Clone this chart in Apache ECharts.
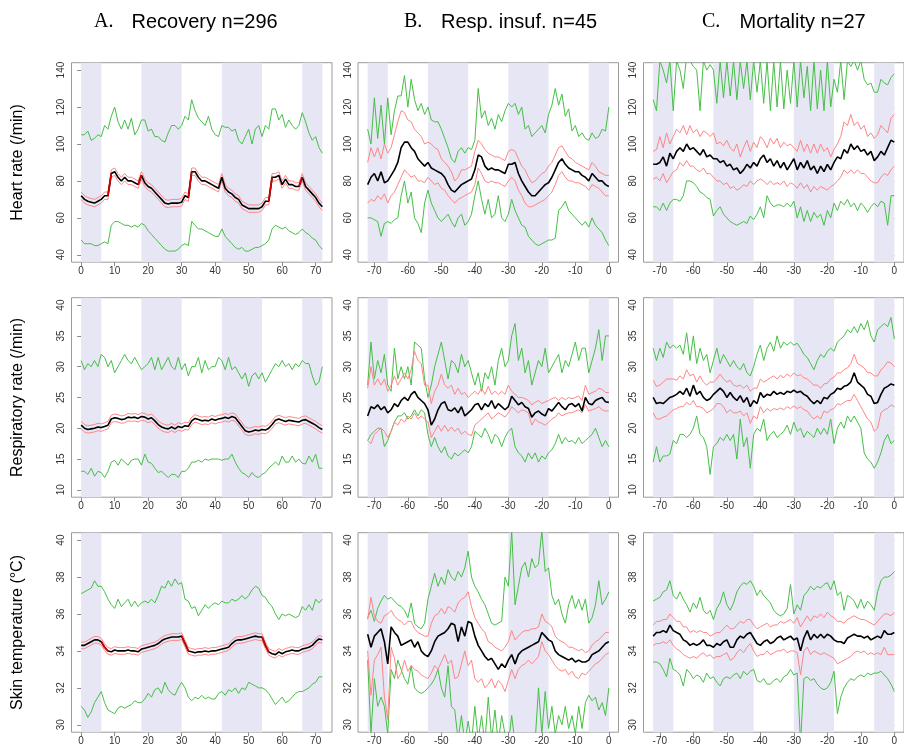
<!DOCTYPE html>
<html>
<head>
<meta charset="utf-8">
<script src="https://cdn.jsdelivr.net/npm/echarts@6/dist/echarts.min.js"></script>
<style>html,body{margin:0;padding:0;background:#fff}#c{width:904px;height:747px}</style>
</head>
<body>
<div id="c"></div>
<script>
// ---------- axes / layout data ----------
const HOURS_A = []; for (let h = 0; h <= 72; h++) HOURS_A.push(h);
const HOURS_BC = HOURS_A.map(h => h - 72);
const NIGHT_A = [[0,6],[18,30],[42,54],[66,72]];
const NIGHT_BC = [[-72,-66],[-54,-42],[-30,-18],[-6,0]];
const XTICKS_A = [0,10,20,30,40,50,60,70];
const XTICKS_BC = [-70,-60,-50,-40,-30,-20,-10,0];
const YTICKS = [[40,60,80,100,120,140],[10,15,20,25,30,35,40],[30,32,34,36,38,40]];
const YRANGE = [[36,144],[8.8,41.2],[29.6,40.4]];
const COL_LETTERS = ['A.','B.','C.'];
const COL_TITLES = ['Recovery n=296','Resp. insuf. n=45','Mortality n=27'];
const ROW_TITLES = ['Heart rate (/min)','Respiratory rate (/min)','Skin temperature (°C)'];

// ---------- A: Recovery ----------
const A1_gHi = [105,105,107,102,103,105,104,110,108,115,
120,112,108,113,108,114,105,108,113,113,
107,108,104,104,102,101,106,110,110,108,
110,115,113,124,118,114,112,110,115,108,
105,104,110,109,109,107,108,102,100,104,
108,100,108,110,104,110,108,119,119,113,
116,109,113,110,108,110,117,112,106,102,
104,98,95];
const A1_pHi = [74,72,71,70.5,70,71,72,74,74,86,
87,84,82,84,82,82,81,80,85,81,
79,78,76,74,72,70,69.5,70,70,70,
70.5,74,73,87,87,84,82,82,81,80,
79,78,84,78,76,75,73,72,69,68,
67,67,67,67,68,71,71,84,84,85,
80,83,80,80,79,79,84,79,77,75,
73,70,68];
const A1_mean = [72,70,69,68.5,68,69,70,72,72,84,
85,82,80,82,80,80,79,78,83,79,
77,76,74,72,70,68,67.5,68,68,68,
68.5,72,71,85,85,82,80,80,79,78,
77,76,82,76,74,73,71,70,67,66,
65,65,65,65,66,69,69,82,82,83,
78,81,78,78,77,77,82,77,75,73,
71,68,66];
const A1_pLo = [70,68,67,66.5,66,67,68,70,70,82,
83,80,78,80,78,78,77,76,81,77,
75,74,72,70,68,66,65.5,66,66,66,
66.5,70,69,83,83,80,78,78,77,76,
75,74,80,74,72,71,69,68,65,64,
63,63,63,63,64,67,67,80,80,81,
76,79,76,76,75,75,80,75,73,71,
69,66,64];
const A1_gLo = [48,46,46,46,45,45,46,47,46,56,
58,58,57,56,56,55,56,55,57,56,
53,51,49,47,45,43,42,42,42,43,
45,46,45,58,56,54,54,53,52,51,
50,50,54,50,48,46,44,43,44,42,
42,43,44,44,45,46,48,54,56,55,
54,55,53,52,51,52,54,52,51,49,
48,45,43];
const A1_red = [[8,9],[17,18],[32,33],[56,57],[65,66]];

const A2_gHi = [31,29.5,30.5,30,31,30,32,31.5,30,31,
29,30,31,32,31,30.5,31.5,30.5,29.5,30,
30.5,31.5,29.5,31.5,29.5,30.5,31.5,30,29.5,31.5,
29.5,30.5,28.5,30,30,31.5,29,31,29.5,30,
30,31.5,31,29.5,31.5,29.5,30,29,28,29,
26.8,28.5,29,28,29,27.5,28.5,29.5,30.5,30,
31,30,30.5,29.5,30.5,30,31,30.5,30.5,28.5,
27,27.5,30];
const A2_pHi = [21.1,20.6,20.4,20.5,20.6,20.8,20.7,20.9,21.1,22.1,
22.3,22.2,22,22.1,22.4,22.3,22.4,22.2,22.5,22.4,
22.1,22.3,21.8,21.2,20.8,20.6,20.5,20.8,20.5,20.9,
20.7,21,20.9,21.8,22.2,22,21.8,21.9,21.8,22.1,
21.9,22.1,22.2,22.4,22.2,22.5,22.3,21.6,20.9,20.2,
20,20.1,20.3,20.2,20.4,20.3,20.6,21.2,21.9,22.1,
21.9,21.7,21.9,21.8,21.7,21.6,21.9,22,21.7,21.4,
21.1,20.7,20.4];
const A2_mean = [20.5,20,19.8,19.9,20,20.2,20.1,20.3,20.5,21.5,
21.7,21.6,21.4,21.5,21.8,21.7,21.8,21.6,21.9,21.8,
21.5,21.7,21.2,20.6,20.2,20,19.9,20.2,19.9,20.3,
20.1,20.4,20.3,21.2,21.6,21.4,21.2,21.3,21.2,21.5,
21.3,21.5,21.6,21.8,21.6,21.9,21.7,21,20.3,19.6,
19.4,19.5,19.7,19.6,19.8,19.7,20,20.6,21.3,21.5,
21.3,21.1,21.3,21.2,21.1,21,21.3,21.4,21.1,20.8,
20.5,20.1,19.8];
const A2_pLo = [19.9,19.4,19.2,19.3,19.4,19.6,19.5,19.7,19.9,20.9,
21.1,21,20.8,20.9,21.2,21.1,21.2,21,21.3,21.2,
20.9,21.1,20.6,20,19.6,19.4,19.3,19.6,19.3,19.7,
19.5,19.8,19.7,20.6,21,20.8,20.6,20.7,20.6,20.9,
20.7,20.9,21,21.2,21,21.3,21.1,20.4,19.7,19,
18.8,18.9,19.1,19,19.2,19.1,19.4,20,20.7,20.9,
20.7,20.5,20.7,20.6,20.5,20.4,20.7,20.8,20.5,20.2,
19.9,19.5,19.2];
const A2_gLo = [13,13,12.5,13.5,12.2,13,12.8,12,13,14.5,
14.8,14,15,14.5,14,14.8,15,15,14,15.8,
14.5,14.3,13.5,12.8,13,12.5,12,12.5,12.5,12,
13,13,13.5,14.5,14.5,14.8,14.5,15,14.8,15,
15,15,14.8,15,15,15.8,14.5,13.5,12.8,12.5,
12,12.8,12.2,12,12.5,12.8,13.5,14,14.5,14,
15.5,14.5,14.5,15.5,14.5,15,14.3,14.2,15.5,14.5,
15.8,13.5,13.5];

const A3_gHi = [37.1,37.2,37.3,37.4,37.8,37.5,37.5,37.2,36.8,36.5,
36.3,36.8,36.4,36.6,36.8,36.4,36.7,36.4,36.6,36.7,
36.6,36.8,36.6,37.0,37.5,37.4,37.8,37.5,37.9,37.6,
37.7,36.8,36.7,36.3,36.4,35.9,36.2,36.5,36.3,36.5,
36.6,36.5,36.7,36.6,36.6,36.8,36.7,36.8,37.0,36.8,
37.0,37.3,37.5,37.4,37.0,36.9,36.6,36.4,36.0,35.7,
36.0,35.9,36.0,35.9,35.8,35.9,36.4,36.2,36.5,36.2,
36.8,36.6,36.8];
const A3_pHi = [34.48,34.48,34.58,34.68,34.78,34.78,34.68,34.38,34.18,34.13,
34.23,34.18,34.18,34.18,34.23,34.18,34.18,34.13,34.28,34.33,
34.38,34.43,34.48,34.58,34.73,34.83,34.88,34.93,34.93,34.93,
34.98,34.58,34.18,34.13,34.08,34.13,34.13,34.18,34.13,34.18,
34.18,34.23,34.28,34.33,34.38,34.58,34.73,34.78,34.78,34.83,
34.88,34.93,34.98,34.93,34.93,34.48,34.13,34.03,33.98,34.13,
34.03,34.13,34.18,34.23,34.18,34.18,34.28,34.33,34.38,34.48,
34.68,34.83,34.78];
const A3_mean = [34.3,34.3,34.4,34.5,34.6,34.6,34.5,34.2,34.0,33.95,
34.05,34.0,34.0,34.0,34.05,34.0,34.0,33.95,34.1,34.15,
34.2,34.25,34.3,34.4,34.55,34.65,34.7,34.75,34.75,34.75,
34.8,34.4,34.0,33.95,33.9,33.95,33.95,34.0,33.95,34.0,
34.0,34.05,34.1,34.15,34.2,34.4,34.55,34.6,34.6,34.65,
34.7,34.75,34.8,34.75,34.75,34.3,33.95,33.85,33.8,33.95,
33.85,33.95,34.0,34.05,34.0,34.0,34.1,34.15,34.2,34.3,
34.5,34.65,34.6];
const A3_pLo = [34.12,34.12,34.22,34.32,34.42,34.42,34.32,34.02,33.82,33.77,
33.87,33.82,33.82,33.82,33.87,33.82,33.82,33.77,33.92,33.97,
34.02,34.07,34.12,34.22,34.37,34.47,34.52,34.57,34.57,34.57,
34.62,34.22,33.82,33.77,33.72,33.77,33.77,33.82,33.77,33.82,
33.82,33.87,33.92,33.97,34.02,34.22,34.37,34.42,34.42,34.47,
34.52,34.57,34.62,34.57,34.57,34.12,33.77,33.67,33.62,33.77,
33.67,33.77,33.82,33.87,33.82,33.82,33.92,33.97,34.02,34.12,
34.32,34.47,34.42];
const A3_gLo = [31.0,30.8,30.4,30.7,31.2,31.5,31.8,31.2,30.8,30.7,
30.6,30.9,31.0,30.9,31.0,31.1,31.3,31.2,31.2,31.4,
31.7,31.5,31.9,32.0,31.7,32.3,31.9,31.7,31.6,32.0,
32.3,32.0,31.5,31.3,31.5,31.4,31.6,31.4,31.5,31.4,
31.4,31.7,31.8,31.6,31.9,31.8,32.0,31.7,32.0,31.9,
32.3,32.2,32.1,32.0,32.0,31.9,31.7,31.4,31.1,31.3,
31.5,31.2,31.3,31.5,31.7,31.8,31.8,31.9,32.0,32.2,
32.3,32.6,32.6];
const A3_red = [[6,8],[30,32],[54,56]];

// ---------- B: Resp. insuf. ----------
const B1_gHi = [108,100,125,103,121,100,125,105,118,126,
126,137,120,135,124,118,122,116,120,113,
112,112,108,103,98,92,90,96,98,95,
98,97,102,130,114,118,110,114,108,116,
112,118,122,120,122,116,120,108,110,104,
106,108,110,106,116,121,130,121,127,115,
119,107,110,104,106,103,102,106,103,104,
108,107,120];
const B1_pHi = [90,98,93,98,92,100,95,98,105,112,
118,117,113,112,108,106,104,100,101,100,
98,97,92,90,88,85,80,82,86,86,
87,88,96,102,100,97,95,94,93,93,
92,91,96,97,96,92,88,86,82,79,
80,82,84,85,88,90,94,98,99,96,
93,92,90,89,88,87,86,90,88,85,
84,83,83];
const B1_mean = [78,82,84,80,85,79,80,83,86,90,
98,101,101,98,96,92,90,88,90,87,
86,85,84,82,78,75,74,76,78,79,
80,81,86,94,93,88,86,87,86,86,
85,84,89,89,90,84,80,77,74,72,
72,74,76,78,79,82,86,90,92,89,
87,86,85,85,83,82,80,84,82,80,
80,78,77];
const B1_pLo = [68,70,69,72,70,73,68,72,74,78,
82,86,84,82,83,80,80,79,82,80,
78,79,76,75,72,70,68,70,71,72,
73,74,78,87,84,80,79,80,79,79,
78,77,80,82,80,75,72,68,66,66,
67,68,69,70,72,74,78,83,85,82,
80,80,79,79,78,77,75,78,77,76,
74,72,72];
const B1_gLo = [60,60,59,58,50,57,58,57,59,60,
72,80,68,74,60,57,52,68,75,68,
64,60,58,60,62,58,55,60,62,56,
58,62,72,80,70,62,70,60,62,72,
60,58,62,70,64,60,56,55,50,48,
46,45,46,47,48,48,49,64,66,69,
64,62,60,58,56,58,55,60,56,54,
52,48,45];

const B2_gHi = [27,34,28,31,29,32,27,26,33,28,
30,28,30,27,34,33.5,33,28,25,27,
30,32,34,31,28,31,30.5,29,32,30,
31,29,27,29,26,29,28,30,27,31,
33,30,31,35,37,31,33,29,31,27,
29,31,30,33,29,30,31,32,29,31,
30,32,34,31,33,33,29,31,33,36,
31,35,35];
const B2_pHi = [26.5,30,27,28,27,28,26,27,28.5,27,
28,29,28,29.5,32.5,31,30.5,27,27,24,
26,27,28.8,27,26.5,27,25.5,26.5,25.5,25.8,
25,25.5,26,25.5,26.5,25.5,26.8,25.5,26,25.5,
26,25.5,27,26,25.5,25,25,24.8,24.5,23.8,
24.2,24.5,24,24.3,24.5,24.8,25,24.5,25,24.6,
25,24.8,25,25.2,24.5,27,25.5,25.8,26,26.5,
26.3,25.8,25.8];
const B2_mean = [22,23.5,23.2,23.8,23,23.5,22.5,23,24,23.5,
24.5,25,24.5,25.5,26,25,24.5,24,23,20.5,
21.5,23,24,24.3,23,22.8,23.3,22.5,23.5,22,
22.5,23,23.8,24,23,24,23.5,24.5,23.2,24,
23.5,23,23.5,25.2,24.5,23.8,24.2,23.5,23.2,21.8,
22.5,22.8,22.3,22,23.2,22.8,23.5,24.2,23.5,23,
23.8,24,23.5,24,22.8,25,24,23.8,24.5,24.8,
25,24.3,24.2];
const B2_pLo = [18,17.5,19,19.5,20,19.5,18.5,19.5,21,20.5,
21.5,21,22,21.5,22.5,21.5,22,21.5,21,18.5,
19.5,20.5,19.5,20.5,19.5,20.2,19.5,20,19,19.5,
19,18.8,20.5,21,21.5,22,22.5,21.5,22,22.5,
22.2,21.8,22.5,23.5,23,22.5,23,22.8,22.5,20.5,
21.5,21,20.8,20.5,21,21.5,21.8,22.5,22,22.3,
22.5,22.5,22.8,23,22.5,23.8,22.8,23,23.2,23.5,
23,22.8,22.8];
const B2_gLo = [18,19,19.5,20,20,17,18,19.5,21,22,
22,22.5,21.5,22,23,22,23,22.5,19,17,
18.5,17,16,17,15.5,15,16,15.5,16,16.5,
16,17,19.5,19,18.5,20,19,17.5,19,18.5,
17,18.5,19.5,20,17,16,15.5,14.5,16,15,
16,14.5,15.5,15,16,16.5,17.5,19,17.5,18.5,
17.8,18,17.5,18.5,17.5,18,18.5,19,20,18.5,
17,18,17];

const B3_gHi = [35.8,36.2,35.6,36.3,36.7,37.0,36.8,36.9,36.7,36.5,
36.4,36.2,35.8,36.6,35.5,35.3,35.2,35.5,36.8,37.5,
38.2,37.5,38.0,37.6,38.4,38.0,37.8,38.3,38.0,38.5,
39.4,38.0,37.5,37.2,36.8,36.5,36.0,35.5,35.4,35.5,
35.6,38.0,37.5,40.5,36.5,37.5,38.5,38.8,38.0,39.0,
38.5,38.7,40.5,38.3,38.5,37.0,36.5,36.8,36.0,35.5,
36.5,37.0,36.3,36.8,36.2,36.8,35.5,35.8,36.5,37.8,
36.5,36.8,37.2];
const B3_pHi = [35.7,36.9,35.9,35.6,35.5,35.9,36.0,36.2,35.9,35.7,
35.6,35.4,35.6,35.6,35.2,35.0,34.9,34.8,34.8,35.5,
35.9,36.0,36.3,36.0,36.4,36.3,36.1,36.6,36.8,36.9,
37.2,36.4,35.8,35.5,35.2,35.0,34.5,34.4,34.2,34.1,
34.0,34.2,34.5,35.1,34.6,34.8,35.0,35.1,35.1,35.2,
35.2,35.3,36.0,35.6,35.5,35.3,34.8,34.6,34.5,34.4,
34.2,34.2,34.1,34.0,34.1,33.9,34.0,34.3,34.5,34.6,
34.8,35.0,35.0];
const B3_mean = [34.9,34.2,34.8,35.0,35.2,34.5,33.3,35.3,35.0,34.8,
34.3,34.4,34.5,34.6,34.2,34.5,34.0,33.8,33.7,34.0,
34.5,34.8,34.9,35.0,35.2,35.5,35.4,34.5,35.3,34.8,
35.6,35.5,34.8,34.3,34.0,33.7,33.5,33.6,33.3,33.0,
33.3,33.1,33.5,33.8,33.3,33.8,34.0,34.1,34.2,34.3,
34.4,34.5,35.0,34.8,34.6,34.5,34.0,33.8,33.7,33.6,
33.5,33.6,33.4,33.5,33.4,33.4,33.5,33.8,33.9,34.0,
34.2,34.4,34.5];
const B3_pLo = [34.0,31.6,33.5,33.8,34.2,31.5,30.3,34.2,33.6,32.5,
32.8,33.5,32.9,33.2,33.0,32.9,32.7,32.6,32.5,32.8,
33.2,33.0,33.4,33.8,33.3,33.5,32.5,32.6,33.3,34.0,
33.2,33.5,32.5,32.3,32.5,32.0,32.2,32.5,32.0,32.4,
32.2,31.8,32.4,33.0,32.5,33.0,33.2,33.3,33.5,33.3,
33.5,33.7,34.5,34.0,33.8,33.5,33.2,33.0,32.9,33.0,
32.7,32.9,32.6,32.5,32.8,32.7,32.9,33.1,33.3,33.4,
33.6,33.8,33.9];
const B3_gLo = [33.5,29.5,32.5,31.0,31.5,31.0,29.5,33.0,32.5,33.5,
33.0,32.5,32.2,33.2,32.0,31.8,31.7,31.8,32.0,32.2,
32.5,33.0,32.0,31.5,33.2,31.0,30.8,29.2,30.5,29.0,
30.2,29.0,31.0,29.2,30.5,29.0,31.5,29.2,30.8,29.0,
30.5,29.5,29.0,30.5,29.0,29.5,29.0,29.2,29.0,29.5,
29.1,32.0,29.5,31.8,29.8,31.0,29.5,30.5,30.0,31.0,
29.8,30.5,29.5,31.0,29.8,31.2,31.6,31.3,31.5,30.8,
31.2,30.5,32.0];

// ---------- C: Mortality ----------
const C1_gHi = [124,118,145,140,133,145,118,145,140,130,
148,145,142,140,118,145,140,143,140,122,
145,125,145,126,145,124,145,130,145,124,
145,128,145,122,145,118,145,120,145,119,
140,122,145,120,145,125,142,118,145,119,
140,118,145,120,135,128,145,124,145,142,
145,140,145,135,132,133,128,128,135,133,
132,136,138];
const C1_pHi = [96,97,104,98,106,100,104,108,106,110,
105,110,106,108,104,107,106,104,106,100,
101,99,102,98,96,100,93,98,102,96,
101,98,104,102,98,103,100,103,98,101,
99,100,98,96,102,96,100,95,100,95,
100,96,98,93,97,100,104,112,110,116,
110,112,108,110,104,106,103,105,110,108,
106,114,116];
const C1_mean = [89,89,90,93,88,95,92,96,98,96,
100,97,98,96,94,97,93,94,92,92,
90,91,88,89,86,87,84,86,89,87,
90,88,92,94,90,92,88,91,87,90,
86,89,92,86,90,87,91,86,88,84,
88,85,89,86,90,93,92,97,95,100,
97,99,96,97,94,96,91,93,96,94,
98,102,101];
const C1_pLo = [81,82,80,84,79,82,85,86,90,88,
91,88,88,86,85,87,84,84,82,80,
80,78,79,76,77,75,76,78,77,80,
78,80,81,80,78,80,78,79,78,80,
77,79,78,76,79,76,78,74,77,75,
77,76,75,77,78,80,82,86,84,86,
84,86,84,84,82,80,79,79,82,84,
83,86,88];
const C1_gLo = [66,66,64,68,64,68,70,70,69,72,
80,80,79,77,74,73,71,70,61,64,
66,62,60,58,57,56,57,58,57,61,
59,62,66,60,72,68,66,67,67,66,
68,66,69,60,66,58,64,58,63,60,
62,56,64,60,68,64,69,67,70,66,
68,64,68,66,63,66,68,66,69,68,
56,72,72];

const C2_gHi = [33,31,33,31.5,34,33,33.5,33,33.5,32,
35.5,31,35,30.5,33,31,32,29,31,33,
30.5,32,31,30,31,30,29.5,30.5,29,28.5,
30,32,33.5,31,33,34,32.5,35,33,34,
33.5,34,33.5,33.8,33,32,31.5,30.5,29.5,31,
32,31.5,32.5,33,32.5,34,34.5,35,36,35.5,
36.5,35.5,37,36,37.5,35,34,36,36.5,37,
36.5,38,34.5];
const C2_pHi = [27.8,26.8,27,27.5,28,28,28,27.8,28.5,28,
29.5,28.5,28.8,27.5,28.5,27.5,27,27.5,27.5,28,
28.8,28,27.5,27.8,27,26.8,27,26.5,27,26,
26.5,26.5,28,27.5,27.8,28.2,28.5,28,28.6,28.2,
28.8,28.4,29,28.5,28.7,28.2,28,27.5,27,27,
26.5,27.2,27.3,28,28.3,29,29,29.5,29.8,30.5,
32,30.5,30.2,29.8,29,29,28.5,28.5,29.5,30,
30.8,30.6,30];
const C2_mean = [25,24,24.2,24,24.5,25,25.2,25.5,26,25.5,
26.5,25.2,27,25.5,26,25,24.5,24.8,25.5,26,
26.5,26,25,25.8,25,24.5,25.3,24.2,25,23.5,
24.5,24,25.8,25,25.5,25.3,26,25.5,25.8,25.5,
26,25.8,26.2,25.8,26,25.5,25.2,24.5,24,24.5,
24,25,24.8,25.5,25.8,26.5,26.3,26.8,27,27.5,
29,27.5,27,26.5,25.5,25.2,24,24.2,25.5,26.5,
26.8,27.2,27];
const C2_pLo = [22.5,21.5,21.5,21.8,22,22.5,23,23.2,23.5,23.5,
24.2,23.8,24.5,23.5,23.5,23.2,22.5,22.8,23.2,24,
24,23.5,22.5,23,22.5,22.5,22.8,22,22.5,20.8,
22,21.5,23.5,22.5,23.2,22.8,23.2,23,23.3,23,
23.5,23.2,23.6,23.2,23.5,23,22.8,22,21.5,22,
21.5,22.8,22.5,23,23.2,24,23.8,24.2,24.5,24.5,
25.5,24.5,23.5,22.5,21.5,21,19.5,20,22.5,23,
23.2,23.8,23.5];
const C2_gLo = [14.5,17,14.5,15.5,15.5,15.8,18,17.5,19,19,
18.5,19,20,22,19,18.5,17,12.5,17,17.5,
18.5,18,19,18,19,15,21.5,17,18.5,13.5,
19,20,19.5,21.5,18,19,19.5,18.5,19,19.5,
20.5,19,21,19.5,20,18.5,19.5,19,18.5,20,
19,20,19,21.5,17.5,20,21,20,22,21,
22,21,20,16,15,14.5,13.5,14.5,16,18,
19,17.5,18];

const C3_gHi = [36.7,36.8,36.9,37.2,37.3,37.8,37.0,36.8,37.2,36.8,
36.5,36.1,36.6,36.3,36.9,36.2,36.0,36.2,35.7,36.3,
36.6,37.2,36.5,36.2,36.6,37.2,37.5,37.7,37.6,37.8,
37.5,37.0,37.3,37.0,36.8,36.6,36.2,36.0,35.9,36.0,
36.3,37.6,36.0,36.5,36.2,37.0,37.2,37.5,37.3,37.5,
37.4,37.6,37.7,37.3,37.8,37.0,37.2,36.2,37.0,36.9,
36.7,36.3,36.8,36.3,36.7,36.5,36.2,37.2,37.8,38.0,
38.0,38.1,38.3];
const C3_pHi = [35.4,35.6,35.6,35.7,35.7,36.0,35.8,35.6,35.6,35.3,
35.3,35.0,35.1,35.0,35.1,35.0,35.0,34.8,34.9,35.0,
35.0,35.2,35.4,35.2,35.2,35.4,35.6,35.5,35.7,35.7,
35.4,35.2,35.3,35.4,35.5,35.3,35.4,35.4,35.6,35.5,
35.6,35.7,35.5,35.8,35.3,35.6,35.9,35.6,35.9,35.8,
36.0,35.8,36.1,35.9,35.8,35.6,35.6,35.5,35.7,35.8,
35.9,35.8,35.7,35.7,35.6,35.5,35.4,35.6,35.8,36.0,
36.0,35.9,36.1];
const C3_mean = [34.8,35.0,35.0,35.1,35.0,35.4,35.1,35.0,34.9,34.6,
34.5,34.3,34.4,34.3,34.4,34.6,34.3,34.3,34.2,34.4,
34.3,34.5,34.6,34.2,34.2,34.6,34.8,34.7,34.9,35.0,
34.7,34.4,34.3,34.5,34.6,34.4,34.5,34.7,34.8,34.6,
34.7,34.8,34.6,34.7,34.0,34.7,35.1,34.6,34.9,34.7,
34.9,34.7,34.9,34.8,34.6,34.5,34.5,34.4,34.7,34.8,
34.9,34.8,34.8,34.7,34.8,34.6,34.7,34.8,34.7,35.1,
34.9,34.9,35.0];
const C3_pLo = [34.3,34.4,34.4,34.5,34.4,34.6,34.3,34.1,34.0,33.8,
33.7,33.6,33.7,33.6,33.8,33.9,33.7,33.8,33.6,33.7,
33.7,33.8,33.9,33.5,33.6,33.9,34.1,33.9,34.2,34.4,
34.0,33.7,33.8,33.8,34.0,33.8,33.9,34.0,34.0,34.1,
33.9,34.0,34.0,33.9,32.7,34.0,34.2,33.8,34.0,33.9,
33.8,33.9,33.8,33.7,33.6,33.3,33.4,33.5,33.6,33.7,
33.9,34.0,33.9,34.0,33.8,33.9,33.8,33.9,33.8,34.2,
33.8,33.8,33.8];
const C3_gLo = [33.4,33.4,33.3,33.0,32.6,33.6,33.0,32.9,32.7,32.1,
33.0,32.8,32.5,32.7,32.6,32.3,32.8,32.5,32.6,32.3,
32.1,32.5,32.6,32.5,32.7,32.8,32.5,32.9,32.7,32.9,
33.0,32.4,32.3,32.5,32.2,32.2,32.4,32.5,32.3,32.6,
32.7,33.0,32.7,32.8,29.0,32.5,32.6,32.4,32.5,32.2,
32.0,31.9,32.0,32.3,32.9,30.6,31.5,32.0,32.3,32.5,
32.4,32.6,32.7,32.6,32.8,32.7,32.8,32.8,32.9,32.7,
32.5,32.2,31.8];

// ---------- panel table ----------
const PANELS = [
  [A1_gHi,A1_pHi,A1_mean,A1_pLo,A1_gLo,A1_red],[B1_gHi,B1_pHi,B1_mean,B1_pLo,B1_gLo,null],[C1_gHi,C1_pHi,C1_mean,C1_pLo,C1_gLo,null],
  [A2_gHi,A2_pHi,A2_mean,A2_pLo,A2_gLo,null],[B2_gHi,B2_pHi,B2_mean,B2_pLo,B2_gLo,null],[C2_gHi,C2_pHi,C2_mean,C2_pLo,C2_gLo,null],
  [A3_gHi,A3_pHi,A3_mean,A3_pLo,A3_gLo,A3_red],[B3_gHi,B3_pHi,B3_mean,B3_pLo,B3_gLo,null],[C3_gHi,C3_pHi,C3_mean,C3_pLo,C3_gLo,null]
];
PANELS.forEach((p, i) => p.slice(0,5).forEach((a, j) => { if (a.length !== 73) throw new Error('panel ' + i + ' series ' + j + ' len ' + a.length); }));

// ---------- styling ----------
const LEFTS = [71.5, 358, 643.5];
const WIDTHS = [260.5, 260.5, 262];
const TOPS = [62.7, 297.7, 532.7];
const HEIGHT = 199.5;
const GREEN = '#46bf46', PINK = '#ff8585', BLACK = '#000000', RED = '#d40000', BAND = '#e6e6f4';
const LABEL_FONT = "'Liberation Sans', Arial, sans-serif";

const grid = [], xAxis = [], yAxis = [], series = [];
for (let r = 0; r < 3; r++) {
  for (let c = 0; c < 3; c++) {
    const i = r * 3 + c;
    const xs = c === 0 ? HOURS_A : HOURS_BC;
    const night = c === 0 ? NIGHT_A : NIGHT_BC;
    const xticks = c === 0 ? XTICKS_A : XTICKS_BC;
    grid.push({ left: LEFTS[c], top: TOPS[r], width: WIDTHS[c], height: HEIGHT, show: true, borderColor: '#9a9a9a', borderWidth: 1, backgroundColor: 'transparent' });
    xAxis.push({
      type: 'value', gridIndex: i,
      min: c === 0 ? -2.88 : -74.88, max: c === 0 ? 74.88 : 2.88,
      axisLine: { show: false },
      splitLine: { show: false },
      axisTick: { show: true, length: 4, customValues: xticks, lineStyle: { color: '#8a8a8a', width: 1 } },
      axisLabel: { customValues: xticks, fontSize: 10, color: '#333', margin: 4, fontFamily: LABEL_FONT }
    });
    yAxis.push({
      type: 'value', gridIndex: i,
      min: YRANGE[r][0], max: YRANGE[r][1],
      axisLine: { show: false },
      splitLine: { show: false },
      axisTick: { show: true, length: 4, customValues: YTICKS[r], lineStyle: { color: '#8a8a8a', width: 1 } },
      axisLabel: { customValues: YTICKS[r], rotate: 90, fontSize: 10, color: '#333', margin: 5, fontFamily: LABEL_FONT }
    });
    const p = PANELS[i];
    const mk = (arr, color, width, extra) => Object.assign({
      type: 'line', xAxisIndex: i, yAxisIndex: i, showSymbol: false, symbol: 'none',
      data: xs.map((x, k) => [x, arr[k]]), clip: true, silent: true,
      lineStyle: { color, width }, animation: false
    }, extra || {});
    series.push(mk(p[0], GREEN, 1, {
      markArea: { silent: true, itemStyle: { color: BAND }, label: { show: false },
        data: night.map(b => [{ xAxis: b[0] }, { xAxis: b[1] }]) }
    }));
    series.push(mk(p[4], GREEN, 1));
    series.push(mk(p[1], PINK, 1));
    series.push(mk(p[3], PINK, 1));
    series.push(mk(p[2], BLACK, 1.6));
    if (p[5]) {
      const ranges = p[5];
      series.push({
        type: 'line', xAxisIndex: i, yAxisIndex: i, showSymbol: false, symbol: 'none', silent: true, animation: false,
        connectNulls: false,
        data: xs.map((x, k) => [x, ranges.some(rg => x >= rg[0] && x <= rg[1]) ? p[2][k] : null]),
        lineStyle: { color: RED, width: 1.6 }
      });
    }
  }
}

const graphic = [];
const letterX = [94, 404, 702];
const titleX = [131.5, 441, 739.5];
for (let c = 0; c < 3; c++) {
  graphic.push({ type: 'text', x: letterX[c], y: 22, style: { text: COL_LETTERS[c], font: "20px 'Liberation Serif', 'Times New Roman', serif", fill: '#000', textAlign: 'left', textVerticalAlign: 'middle' } });
  graphic.push({ type: 'text', x: titleX[c], y: 22, style: { text: COL_TITLES[c], font: "20px 'Liberation Sans', Arial, sans-serif", fill: '#000', textAlign: 'left', textVerticalAlign: 'middle' } });
}
for (let r = 0; r < 3; r++) {
  graphic.push({ type: 'text', x: 18, y: TOPS[r] + HEIGHT / 2, rotation: Math.PI / 2,
    style: { text: ROW_TITLES[r], font: "16px 'Liberation Sans', Arial, sans-serif", fill: '#000', textAlign: 'center', textVerticalAlign: 'middle' } });
}

const chart = echarts.init(document.getElementById('c'), null, { renderer: 'canvas' });
chart.setOption({ backgroundColor: '#fff', animation: false, grid, xAxis, yAxis, series, graphic });
</script>
</body>
</html>
